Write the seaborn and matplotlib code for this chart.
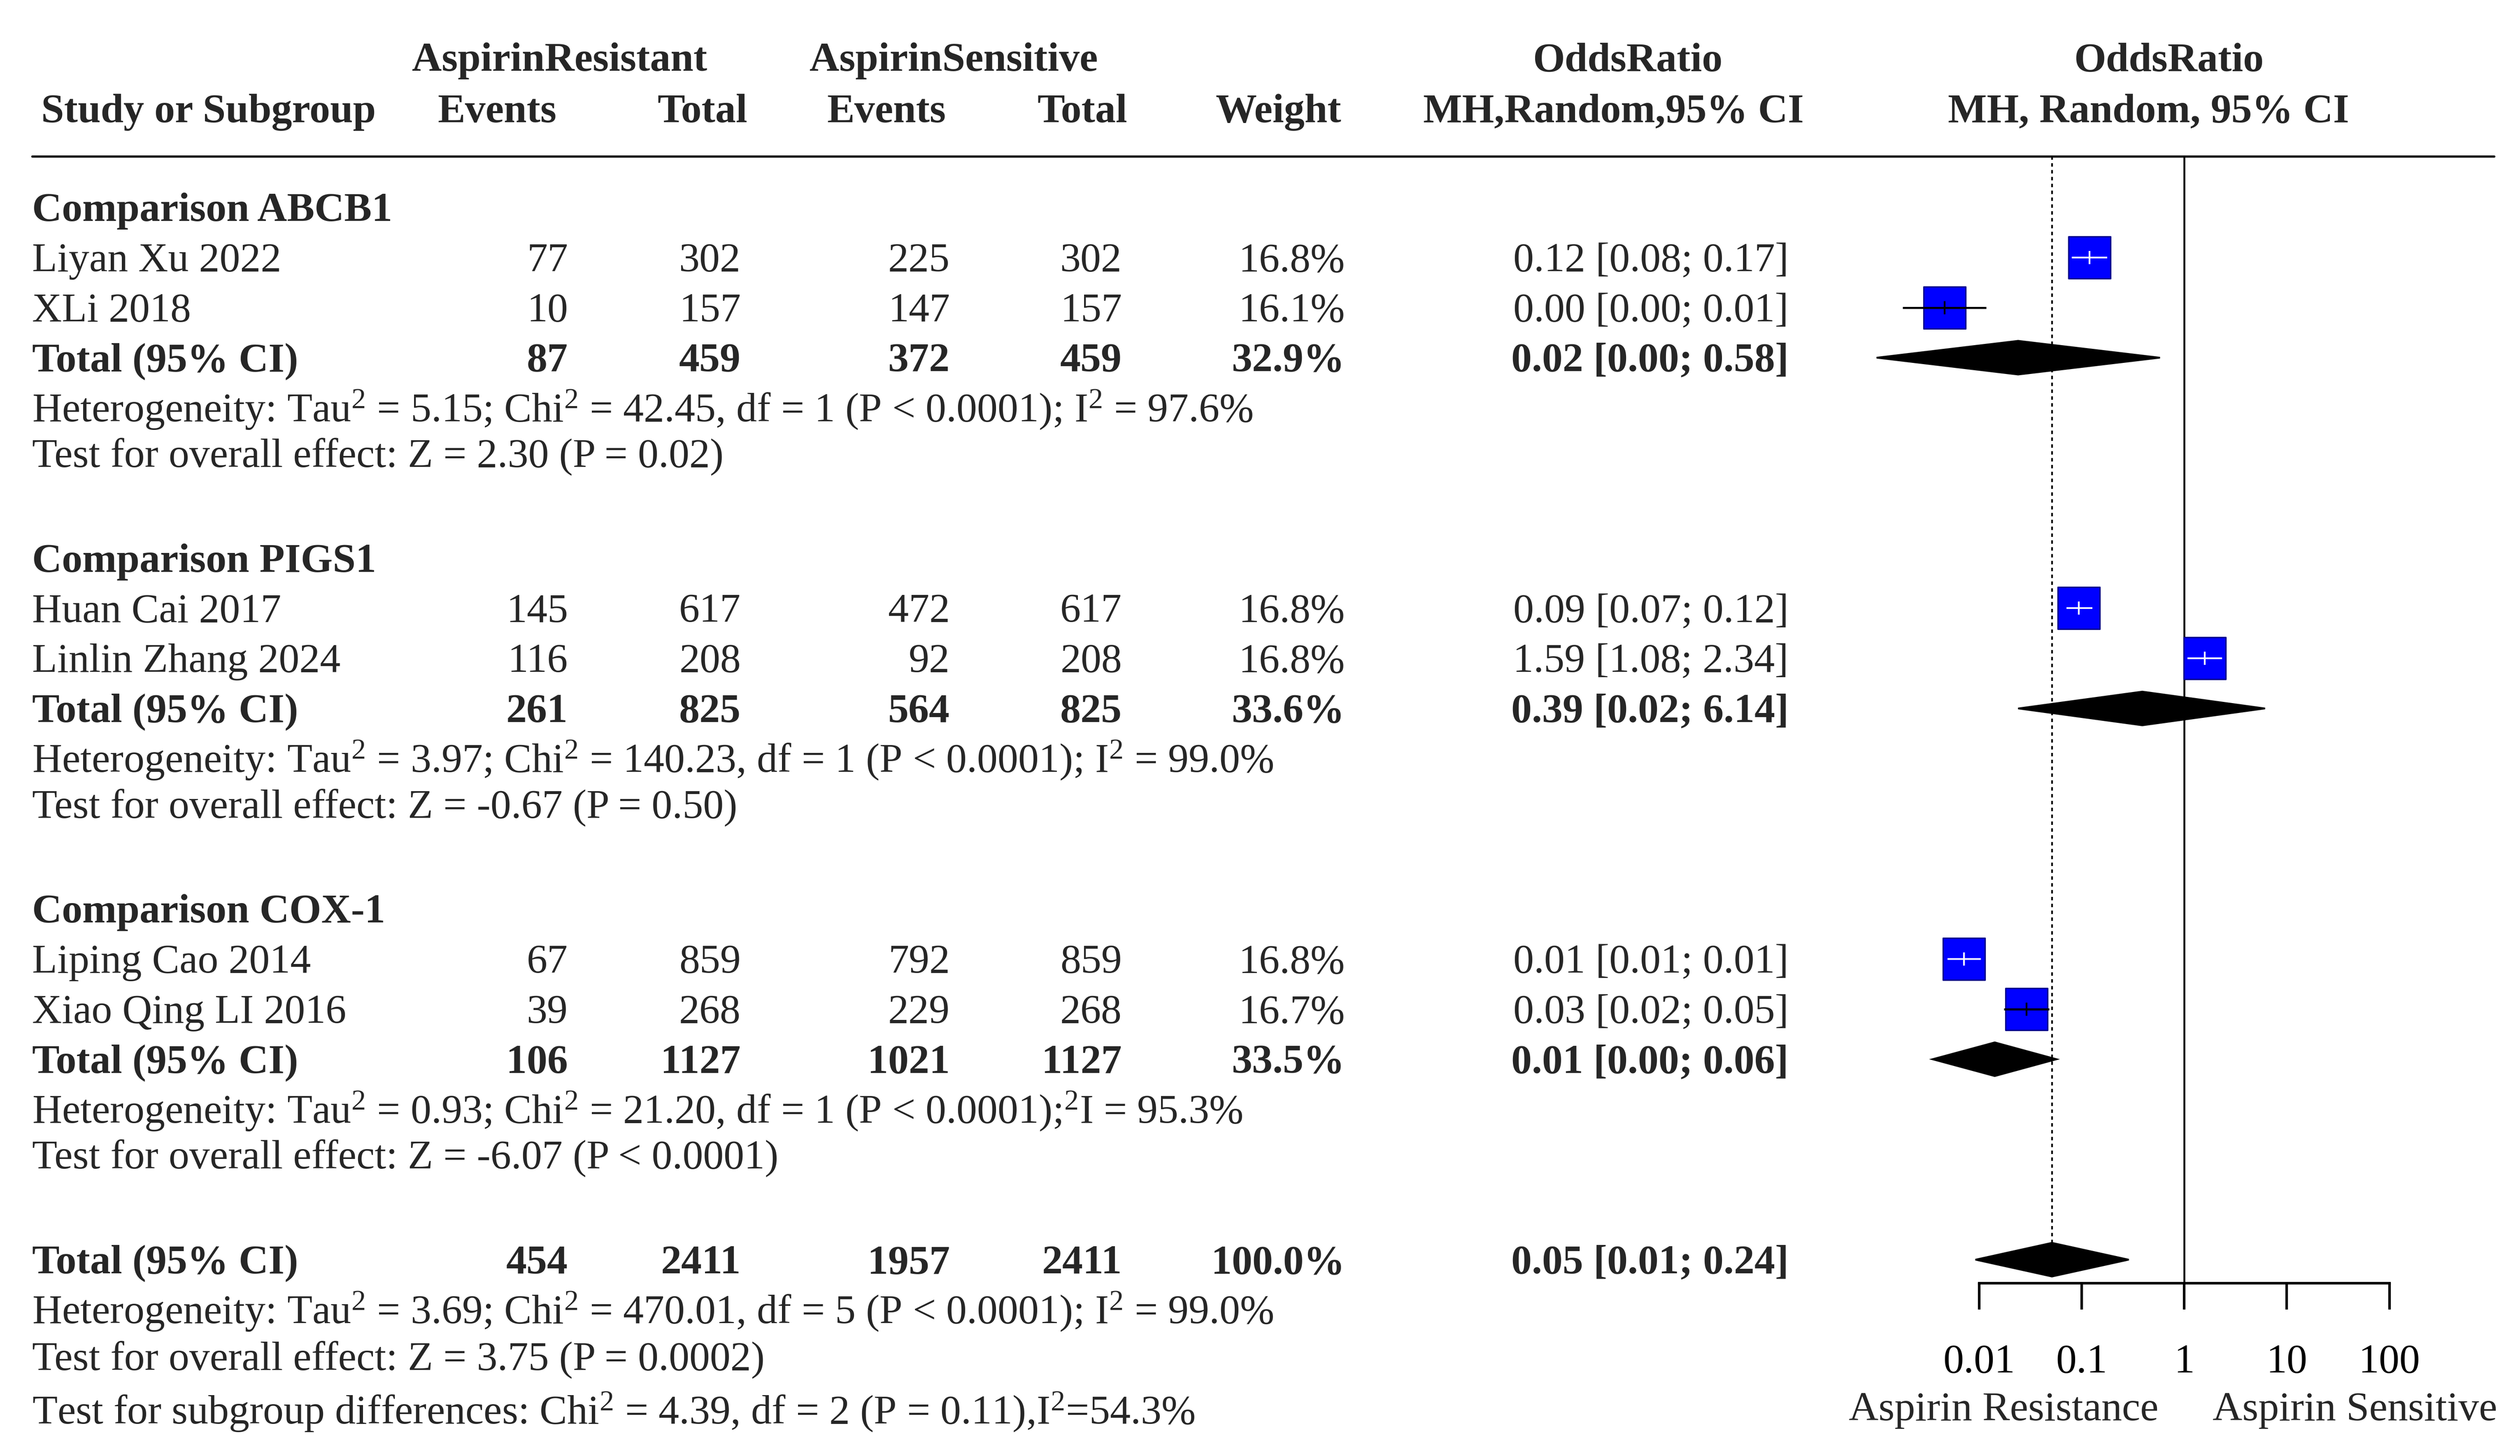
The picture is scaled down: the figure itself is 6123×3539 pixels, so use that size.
import numpy as np
import pandas as pd
import seaborn as sns
import matplotlib.pyplot as plt
from matplotlib.ticker import NullLocator

sns.set_style('white')
plt.rcParams['font.family'] = ['Liberation Serif', 'DejaVu Serif']
plt.rcParams['mathtext.fontset'] = 'custom'
plt.rcParams['mathtext.rm'] = 'Liberation Serif'
plt.rcParams['mathtext.it'] = 'Liberation Serif'

# ---- data ----
groups = ['Comparison ABCB1', 'Comparison PIGS1', 'Comparison COX-1']

studies = ['Liyan Xu 2022', 'XLi 2018', 'Huan Cai 2017', 'Linlin Zhang 2024',
           'Liping Cao 2014', 'Xiao Qing LI 2016']
study_group = [0, 0, 1, 1, 2, 2]
res_events = [77, 10, 145, 116, 67, 39]
res_total = [302, 157, 617, 208, 859, 268]
sen_events = [225, 147, 472, 92, 792, 229]
sen_total = [302, 157, 617, 208, 859, 268]
weights = ['16.8%', '16.1%', '16.8%', '16.8%', '16.8%', '16.7%']
or_text = ['0.12 [0.08; 0.17]', '0.00 [0.00; 0.01]', '0.09 [0.07; 0.12]',
           '1.59 [1.08; 2.34]', '0.01 [0.01; 0.01]', '0.03 [0.02; 0.05]']
# odds ratios as drawn in the forest plot
or_est = [0.119, 0.0046, 0.094, 1.59, 0.0071, 0.029]
or_lo = [0.080, 0.0018, 0.071, 1.08, 0.0049, 0.0175]
or_hi = [0.177, 0.0117, 0.127, 2.34, 0.0104, 0.048]

sub_res_events = [87, 261, 106]
sub_res_total = [459, 825, 1127]
sub_sen_events = [372, 564, 1021]
sub_sen_total = [459, 825, 1127]
sub_weight = ['32.9%', '33.6%', '33.5%']
sub_or_text = ['0.02 [0.00; 0.58]', '0.39 [0.02; 6.14]', '0.01 [0.00; 0.06]']
sub_or = [0.024, 0.39, 0.0142]
sub_lo = [0.001, 0.024, 0.0035]
sub_hi = [0.58, 6.14, 0.057]
sub_het = ['Heterogeneity: Tau$^2$ = 5.15; Chi$^2$ = 42.45, df = 1 (P < 0.0001); I$^2$ = 97.6%',
           'Heterogeneity: Tau$^2$ = 3.97; Chi$^2$ = 140.23, df = 1 (P < 0.0001); I$^2$ = 99.0%',
           'Heterogeneity: Tau$^2$ = 0.93; Chi$^2$ = 21.20, df = 1 (P < 0.0001);$^2$I = 95.3%']
sub_test = ['Test for overall effect: Z = 2.30 (P = 0.02)',
            'Test for overall effect: Z = -0.67 (P = 0.50)',
            'Test for overall effect: Z = -6.07 (P < 0.0001)']

tot_row = [454, 2411, 1957, 2411, '100.0%', '0.05 [0.01; 0.24]']
tot_or, tot_lo, tot_hi = 0.0513, 0.0092, 0.288
tot_het = 'Heterogeneity: Tau$^2$ = 3.69; Chi$^2$ = 470.01, df = 5 (P < 0.0001); I$^2$ = 99.0%'
tot_test = 'Test for overall effect: Z = 3.75 (P = 0.0002)'
sub_diff = 'Test for subgroup differences: Chi$^2$ = 4.39, df = 2 (P = 0.11),I$^2$=54.3%'

tick_vals = [0.01, 0.1, 1, 10, 100]
tick_labels = ['0.01', '0.1', '1', '10', '100']

# ---- layout (pixel coordinates of the output image) ----
W, H = 6123, 3539
FS = 24
def ry(i):
    return 504 + 121.8 * i
BL = 33  # baseline offset from row centre

fig = plt.figure(figsize=(W / 300, H / 300), dpi=300)
ax = fig.add_axes([0, 0, 1, 1])
ax.set_xlim(0, W)
ax.set_ylim(H, 0)
ax.axis('off')

def txt(x, y, s, ha='left', bold=False):
    ax.text(x, y, s, ha=ha, va='baseline', fontsize=FS,
            fontweight='bold' if bold else 'normal')

# header
txt(1360, 172, 'AspirinResistant', 'center', True)
txt(2317, 172, 'AspirinSensitive', 'center', True)
txt(3955, 172, 'OddsRatio', 'center', True)
txt(5270, 172, 'OddsRatio', 'center', True)
txt(100, 297, 'Study or Subgroup', 'left', True)
txt(1208, 297, 'Events', 'center', True)
txt(1707, 297, 'Total', 'center', True)
txt(2154, 297, 'Events', 'center', True)
txt(2630, 297, 'Total', 'center', True)
txt(3106, 297, 'Weight', 'center', True)
txt(3920, 297, 'MH,Random,95% CI', 'center', True)
txt(5220, 297, 'MH, Random, 95% CI', 'center', True)
ax.plot([78, 6060], [380, 380], color='black', lw=1.3)

cols = [1380, 1800, 2308, 2726, 3268, 4346]
X0 = 78

study_y = []
for g in range(3):
    base = 7 * g
    txt(X0, ry(base) + BL, groups[g], bold=True)
    k = 0
    for i in range(len(studies)):
        if study_group[i] != g:
            continue
        k += 1
        y = ry(base + k)
        study_y.append(y)
        txt(X0, y + BL, studies[i])
        vals = [res_events[i], res_total[i], sen_events[i], sen_total[i], weights[i], or_text[i]]
        for cx, v in zip(cols, vals):
            txt(cx, y + BL, str(v), 'right')
    y = ry(base + 3)
    txt(X0, y + BL, 'Total (95% CI)', bold=True)
    vals = [sub_res_events[g], sub_res_total[g], sub_sen_events[g], sub_sen_total[g],
            sub_weight[g], sub_or_text[g]]
    for cx, v in zip(cols, vals):
        txt(cx, y + BL, str(v), 'right', True)
    txt(X0, ry(base + 4) + BL, sub_het[g])
    txt(X0, ry(base + 5) - 10 + BL, sub_test[g])

y = ry(21)
txt(X0, y + BL, 'Total (95% CI)', bold=True)
for cx, v in zip(cols, tot_row):
    txt(cx, y + BL, str(v), 'right', True)
txt(X0, ry(22) + BL, tot_het)
txt(X0, ry(23) - 8 + BL, tot_test)
txt(X0, ry(24) + BL, sub_diff)

txt(4868, 3452, 'Aspirin Resistance', 'center')
txt(5722, 3452, 'Aspirin Sensitive', 'center')

# ---- forest plot ----
x_lo_px, x_hi_px = 4808.8, 5805.5
axf = fig.add_axes([x_lo_px / W, 0, (x_hi_px - x_lo_px) / W, 1])
axf.patch.set_visible(False)
axf.set_xscale('log')

df = pd.DataFrame({'study': studies, 'or': or_est, 'lo': or_lo, 'hi': or_hi, 'y': study_y})
sns.scatterplot(data=df, x='or', y='y', marker='s', s=610, color='#0000FF',
                edgecolor='#00008B', linewidth=0.8, ax=axf, legend=False,
                clip_on=False, zorder=3)

# CI lines: white when inside the box, black when they stick out
half_box = 52 / (x_hi_px - x_lo_px) * 4  # box half width in log10 units
for _, r in df.iterrows():
    inside = (np.log10(r['or']) - np.log10(r['lo']) < half_box and
              np.log10(r['hi']) - np.log10(r['or']) < half_box)
    c = 'white' if inside else 'black'
    lw = 1.0 if inside else 1.2
    axf.plot([r['lo'], r['hi']], [r['y'], r['y']], color=c, lw=lw,
             clip_on=False, zorder=4, solid_capstyle='butt')
    axf.plot([r['or']], [r['y']], marker='|', ms=7.5, mew=1.0, color=c,
             clip_on=False, zorder=4)

# diamonds
dh = 41
for g in range(3):
    yc = ry(7 * g + 3)
    axf.fill([sub_lo[g], sub_or[g], sub_hi[g], sub_or[g]],
             [yc, yc - dh, yc, yc + dh], color='black', clip_on=False, zorder=3)
yc = ry(21)
axf.fill([tot_lo, tot_or, tot_hi, tot_or], [yc, yc - dh, yc, yc + dh],
         color='black', clip_on=False, zorder=3)

axis_y = 3119
axf.plot([1, 1], [380, axis_y], color='black', lw=1.1, zorder=2)
axf.plot([tot_or, tot_or], [380, yc - dh], color='black', lw=1.0,
         ls=(0, (2, 2)), zorder=2)

axf.set_xlim(0.01, 100)
axf.set_ylim(H, 0)
axf.set_xlabel('')
axf.set_ylabel('')
axf.set_yticks([])
for s in ['top', 'left', 'right']:
    axf.spines[s].set_visible(False)
axf.spines['bottom'].set_position(('data', axis_y))
axf.spines['bottom'].set_bounds(0.01, 100)
axf.spines['bottom'].set_linewidth(1.5)
axf.spines['bottom'].set_color('black')
axf.set_xticks(tick_vals)
axf.set_xticklabels(tick_labels)
axf.xaxis.set_minor_locator(NullLocator())
axf.tick_params(axis='x', direction='out', length=15.4, width=1.5, pad=20,
                labelsize=FS, colors='black', bottom=True)

fig.savefig('out.png', dpi=300, facecolor='white')
